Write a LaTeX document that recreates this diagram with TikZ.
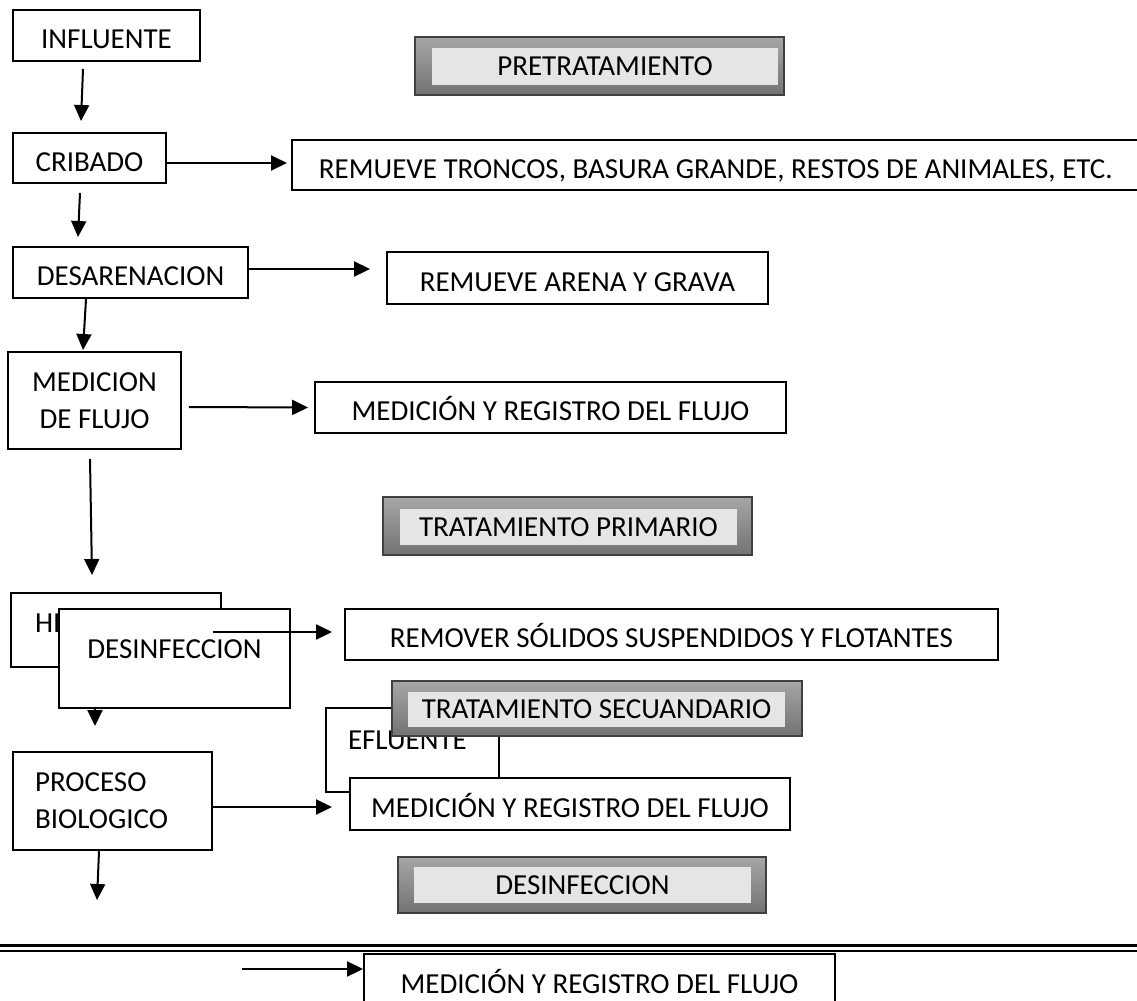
\documentclass[tikz,border=0pt]{standalone}
\usepackage{fontspec}
\setmainfont{Carlito}
\usetikzlibrary{arrows.meta,calc}

\begin{document}
\begin{tikzpicture}[x=0.02cm,y=-0.02cm,
  font=\fontsize{16.5}{21}\selectfont,
  blk/.style={draw,line width=0.04cm,fill=white,inner sep=0pt,align=center},
  ln/.style={blk,text height=0.53cm,text depth=0cm},
  top/.style={blk,text height=0.37cm,text depth=#1},
  shd/.style={draw=black!75,line width=0.03cm,top color=black!35,bottom color=black!55,inner sep=0pt},
  band/.style={fill=black!10,inner sep=0pt,text height=0.37cm,text depth=0cm},
  >={Triangle[length=0.32cm,width=0.3cm]},
  arr/.style={->,line width=0.04cm}]
  \useasboundingbox (0,0) rectangle (1137,1001);
  \clip (0,0) rectangle (1137,1001);
  \fill[white] (0,0) rectangle (1137,1001);

  % pretratamiento column
  \node[ln,minimum width=3.74cm,minimum height=1.02cm] (infl) at (106.5,35.5) {INFLUENTE};
  \node[ln,minimum width=3.06cm,minimum height=1cm] (crib) at (89.5,158) {CRIBADO};
  \node[ln,anchor=west,align=flush left,inner xsep=0.54cm,text width=16.92cm,minimum height=1cm] (rtron) at (291,165)
       {REMUEVE TRONCOS, BASURA GRANDE, RESTOS DE ANIMALES, ETC.};
  \node[ln,minimum width=4.7cm,minimum height=1.02cm] (desa) at (130.5,272.5) {DESARENACION};
  \node[ln,minimum width=7.62cm,minimum height=1.04cm] (arena) at (577.5,278) {REMUEVE ARENA Y GRAVA};
  \node[blk,minimum width=3.46cm,minimum height=1.94cm] (medf) at (94.5,400.5) {MEDICION\\DE FLUJO};
  \node[ln,minimum width=9.42cm,minimum height=1.02cm] (med1) at (550.5,407.5) {MEDICIÓN Y REGISTRO DEL FLUJO};
  \node[blk,align=flush left,inner xsep=0.44cm,text width=3.1cm,minimum height=1.96cm] (proc) at (112.5,801) {PROCESO\\BIOLOGICO};
  \draw[arr] ($(infl.south)+(-23.5,7)$) -- ($(crib.north)+(-8.5,-11)$);
  \draw[arr] ($(crib.east)+(0,5)$) -- ($(rtron.west)+(-4,-2)$);
  \draw[arr] ($(crib.south)+(-9.5,9)$) -- ($(desa.north)+(-52.5,-9)$);
  \draw[arr] ($(desa.east)+(0,-3.5)$) -- ($(arena.west)+(-16,-9)$);
  \draw[arr] ($(desa.south)+(-44.5,0)$) -- ($(medf.north)+(-11.5,-1)$);
  \draw[arr] ($(medf.east)+(7,6.5)$) -- ($(med1.west)+(-6,0)$);

  % banners
  \node[shd,minimum width=7.38cm,minimum height=1.16cm] (pretBg) at (599.5,66) {};
  \node[band,minimum width=6.92cm,minimum height=0.74cm] (pret) at (605,66.5) {PRETRATAMIENTO};
  \node[shd,minimum width=7.38cm,minimum height=1.16cm] (primBg) at (567.5,526) {};
  \node[band,minimum width=6.74cm,minimum height=0.72cm] (prim) at (568.5,527) {TRATAMIENTO PRIMARIO};

  % primario
  \node[top=0.26cm,align=flush left,inner xsep=0.48cm,text width=3.24cm,minimum height=1.48cm] (hidr) at (116,630) {HI};
  \draw[arr] ($(medf.south)+(-4.5,9)$) -- ($(hidr.north)+(-24,-17)$);
  \draw[arr] ($(hidr.south)+(-21,0)$) -- ($(proc.north)+(-17.5,-25)$);
  \node[top=0.38cm,minimum width=4.62cm,minimum height=1.98cm] (desf) at (174.5,658.5) {DESINFECCION};
  \node[ln,minimum width=13.06cm,minimum height=1.02cm] (remv) at (671.5,634.5) {REMOVER SÓLIDOS SUSPENDIDOS Y FLOTANTES};
  \draw[arr] ($(hidr.east)+(-9,2)$) -- ($(remv.west)+(-12,-2.5)$);

  % secundario
  \node[top=0.38cm,align=flush left,inner xsep=0.44cm,text width=2.58cm,minimum height=1.68cm] (eflu) at (412.5,750) {EFLUENTE};
  \node[shd,minimum width=8.2cm,minimum height=1.1cm] (secBg) at (597,708.5) {};
  \node[band,minimum width=7.54cm,minimum height=0.7cm] (sec) at (596.5,709.5) {TRATAMIENTO SECUANDARIO};
  \node[ln,minimum width=8.8cm,minimum height=1.04cm] (med2) at (570,804) {MEDICIÓN Y REGISTRO DEL FLUJO};
  \draw[arr] ($(proc.east)+(0,6)$) -- ($(med2.west)+(-17,3)$);
  \coordinate (out) at ($(proc.south)+(-15.5,49)$);
  \draw[arr] ($(proc.south)+(-13.5,0)$) -- (out);

  % desinfeccion
  \node[shd,minimum width=7.36cm,minimum height=1.12cm] (desbBg) at (582,885) {};
  \node[band,minimum width=6.74cm,minimum height=0.72cm] (desb) at (582.5,885) {DESINFECCION};
  \draw[line width=0.06cm] (0,945) -- (1137,945);
  \draw[line width=0.04cm] (0,951) -- (1137,951);
  \node[blk,text height=0.59cm,text depth=0cm,minimum width=9.42cm,minimum height=0.98cm] (med3) at (599.5,978.5)
       {MEDICIÓN Y REGISTRO DEL FLUJO};
  \coordinate (in) at ($(med3.west)+(-121,-9.5)$);
  \draw[arr] (in) -- ($(med3.west)+(0,-9.5)$);
\end{tikzpicture}
\end{document}
